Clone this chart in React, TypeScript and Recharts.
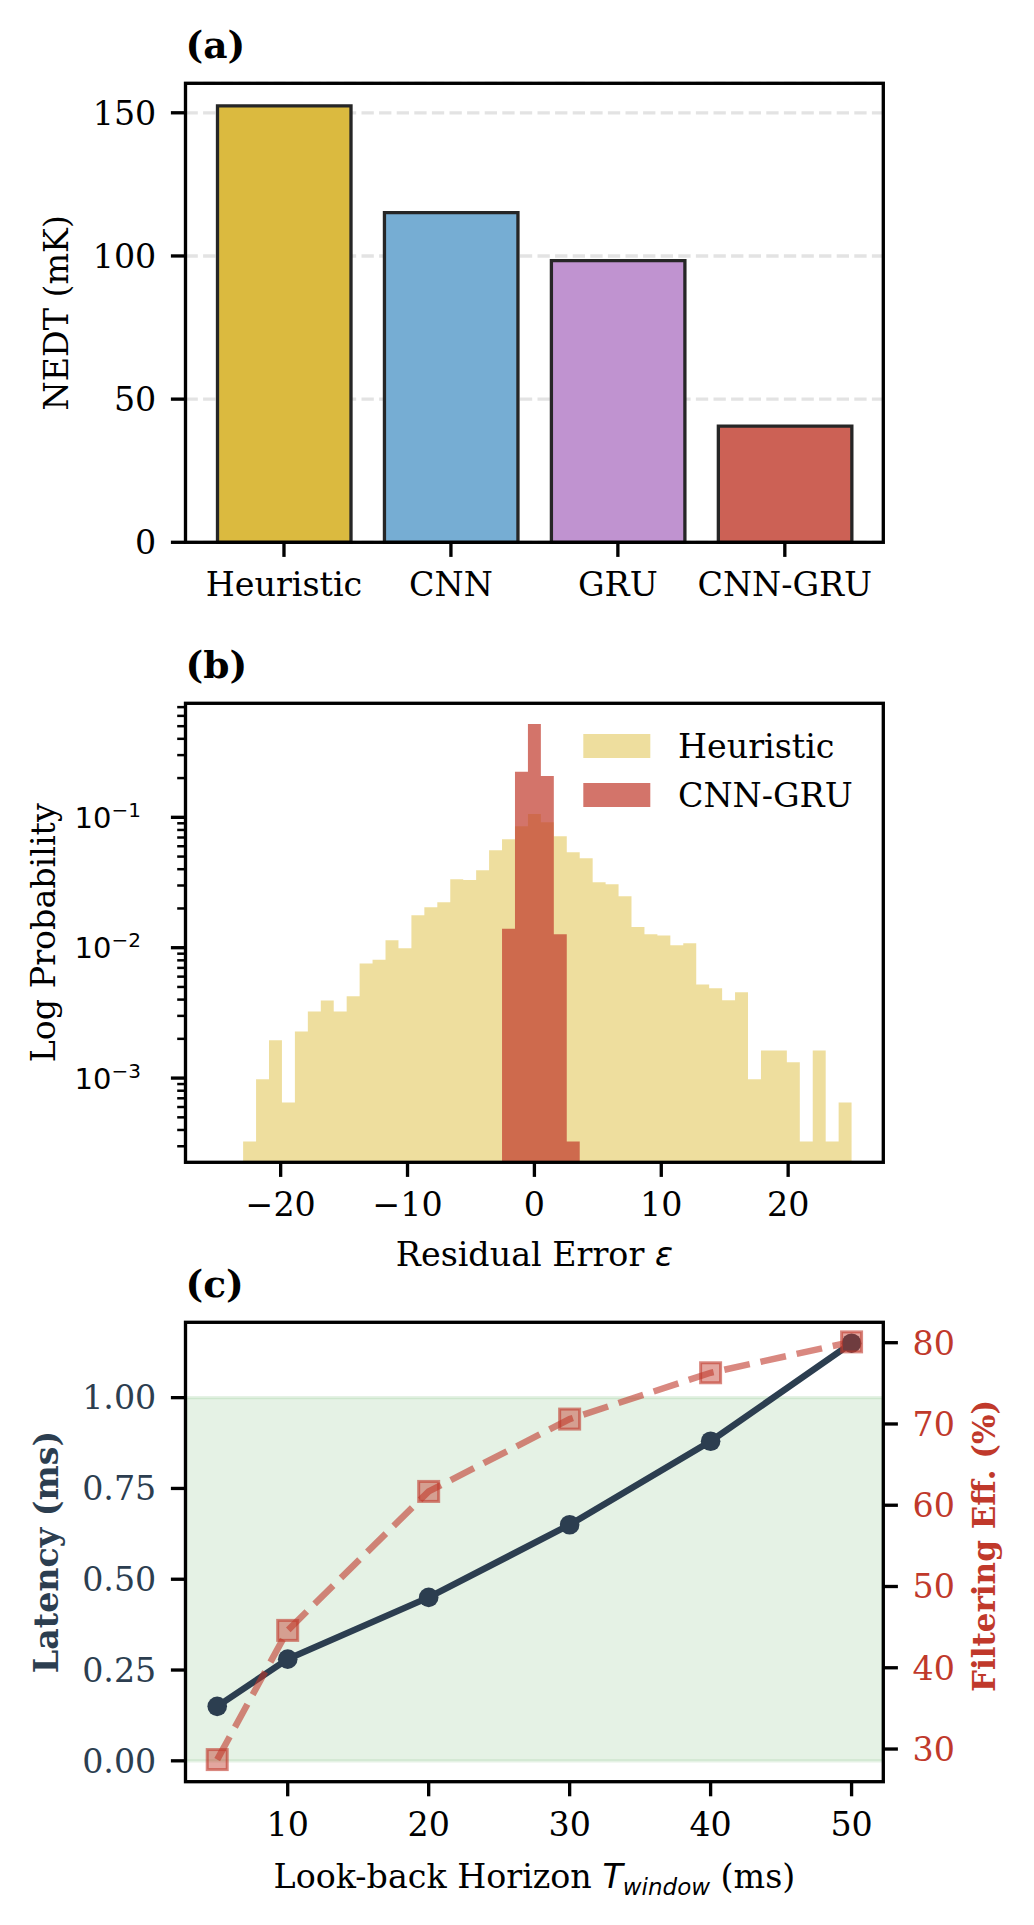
import React from "react";
import {
  Area,
  Bar,
  BarChart,
  CartesianGrid,
  Cell,
  ComposedChart,
  Line,
  ReferenceArea,
  XAxis,
  YAxis,
} from "recharts";

// ---- (a) NEDT per model
const models = ["Heuristic", "CNN", "GRU", "CNN-GRU"];
const nedtMk = [152.4, 115.1, 98.4, 40.6];
const modelColors = ["#DBBA3F", "#76ADD3", "#C093D0", "#CC6155"];
const nedtTicks = [0, 50, 100, 150];

// ---- (b) residual histograms (density, 49 bins over [-25, 25])
const binRange = [-25, 25];
const binCount = 49;
const heuristicStartBin = 2;
const heuristicDensity = [
  3.27e-4, 9.8e-4, 1.95e-3, 6.5e-4, 2.28e-3, 3.24e-3, 3.94e-3, 3.24e-3, 4.25e-3,
  7.56e-3, 8.1e-3, 1.14e-2, 9.9e-3, 1.77e-2, 2.04e-2, 2.23e-2, 3.35e-2, 3.3e-2,
  3.92e-2, 5.58e-2, 6.8e-2, 8.55e-2, 0.106, 9.15e-2, 7.15e-2, 5.4e-2, 4.85e-2,
  3.17e-2, 3.06e-2, 2.48e-2, 1.44e-2, 1.27e-2, 1.24e-2, 1.045e-2, 1.08e-2, 5.22e-3,
  4.88e-3, 3.95e-3, 4.55e-3, 9.8e-4, 1.63e-3, 1.63e-3, 1.32e-3, 3.27e-4, 1.63e-3,
  3.27e-4, 6.5e-4,
];
const cnnGruStartBin = 22;
const cnnGruDensity = [1.4e-2, 0.224, 0.52, 0.207, 1.27e-2, 3.27e-4];
const residualTicks = [-20, -10, 0, 10, 20];
const logMajorTicks = [1e-3, 1e-2, 1e-1];
const logMinorTicks = [
  3e-4, 4e-4, 5e-4, 6e-4, 7e-4, 8e-4, 9e-4,
  2e-3, 3e-3, 4e-3, 5e-3, 6e-3, 7e-3, 8e-3, 9e-3,
  2e-2, 3e-2, 4e-2, 5e-2, 6e-2, 7e-2, 8e-2, 9e-2,
  2e-1, 3e-1, 4e-1, 5e-1, 6e-1, 7e-1,
];

// ---- (c) latency / filtering efficiency vs look-back horizon
const horizonMs = [5, 10, 20, 30, 40, 50];
const latencyMs = [0.15, 0.28, 0.45, 0.65, 0.88, 1.15];
const filteringEff = [28.7, 44.6, 61.7, 70.6, 76.3, 80.1];
const horizonTicks = [10, 20, 30, 40, 50];
const latencyTicks = [0, 0.25, 0.5, 0.75, 1.0];
const effTicks = [30, 40, 50, 60, 70, 80];

// layout (page pixels)
const PAGE_W = 1034;
const PAGE_H = 1925;
const PLOT_L = 185.5;
const PLOT_R = 883.3;
const A_TOP = 83.3, A_BOT = 542.3;
const B_TOP = 703.3, B_BOT = 1162.3;
const C_TOP = 1322.3, C_BOT = 1781.7;
const BOX_A = [0, 620];
const BOX_B = [620, 1240];
const BOX_C = [1240, 1925];

const SERIF = "'DejaVu Serif', serif";
const SANS = "'DejaVu Sans', sans-serif";
const FS = 33.3;
const TITLE_FS = 37.5;
const TICK_LEN = 14.6;
const TICK_PAD = 14.6;
const LW = 3.33;
const NAVY = "#2C3E50";
const RED = "#C0392B";

const tickLine = { stroke: "#000", strokeWidth: LW };
const tickFont = { fontSize: FS, fontFamily: SERIF, fill: "#000" };
const minus = (v: number) => (v < 0 ? "\u2212" + Math.abs(v) : String(v));

const nedtRows = models.map((m, i) => ({ model: m, nedt: nedtMk[i] }));

const binWidth = (binRange[1] - binRange[0]) / binCount;
const histRows: { edge: number; heuristic: number; cnnGru: number | null }[] = [];
for (let k = heuristicStartBin; k <= heuristicStartBin + heuristicDensity.length; k++) {
  const h = Math.min(k - heuristicStartBin, heuristicDensity.length - 1);
  const j = k - cnnGruStartBin;
  histRows.push({
    edge: binRange[0] + k * binWidth,
    heuristic: heuristicDensity[h],
    cnnGru:
      j >= 0 && j <= cnnGruDensity.length
        ? cnnGruDensity[Math.min(j, cnnGruDensity.length - 1)]
        : null,
  });
}
const logDomain = [2.26e-4, 0.749];

const horizonRows = horizonMs.map((h, i) => ({
  horizon: h,
  latency: latencyMs[i],
  eff: filteringEff[i],
}));

function LogTick(props: any) {
  const { y, payload } = props;
  const v = payload.value as number;
  const e = Math.round(Math.log10(v));
  const major = Math.abs(Math.log10(v) - e) < 1e-6;
  const len = major ? TICK_LEN : 8.3;
  return (
    <g>
      <line
        x1={PLOT_L - len}
        x2={PLOT_L}
        y1={y}
        y2={y}
        stroke="#000"
        strokeWidth={major ? LW : 2.5}
      />
      {major && (
        <text
          x={141}
          y={y}
          dy="0.36em"
          textAnchor="end"
          fontFamily={SANS}
          fontSize={29}
          fill="#000"
        >
          10
          <tspan dy="-0.55em" fontSize={20}>
            {"\u2212" + Math.abs(e)}
          </tspan>
        </text>
      )}
    </g>
  );
}

function SquareDot(props: any) {
  const { cx, cy } = props;
  if (cx == null || cy == null) return null;
  return (
    <rect
      x={cx - 10}
      y={cy - 10}
      width={20}
      height={20}
      fill={RED}
      fillOpacity={0.45}
      stroke={RED}
      strokeOpacity={0.6}
      strokeWidth={3}
    />
  );
}

function Overlay() {
  const midX = (PLOT_L + PLOT_R) / 2;
  const rot = (x: number, y: number) => `rotate(-90 ${x} ${y})`;
  return (
    <svg
      width={PAGE_W}
      height={PAGE_H}
      style={{ position: "absolute", left: 0, top: 0, pointerEvents: "none" }}
      fontFamily={SERIF}
      fontSize={FS}
    >
      {[
        [A_TOP, A_BOT],
        [B_TOP, B_BOT],
        [C_TOP, C_BOT],
      ].map(([t, b], i) => (
        <rect
          key={i}
          x={PLOT_L}
          y={t}
          width={PLOT_R - PLOT_L}
          height={b - t}
          fill="none"
          stroke="#000"
          strokeWidth={LW}
        />
      ))}

      <text x={PLOT_L} y={A_TOP - 25} fontWeight="bold" fontSize={TITLE_FS}>(a)</text>
      <text x={PLOT_L} y={B_TOP - 25} fontWeight="bold" fontSize={TITLE_FS}>(b)</text>
      <text x={PLOT_L} y={C_TOP - 25} fontWeight="bold" fontSize={TITLE_FS}>(c)</text>

      <text
        x={68}
        y={(A_TOP + A_BOT) / 2}
        textAnchor="middle"
        transform={rot(68, (A_TOP + A_BOT) / 2)}
      >
        NEDT (mK)
      </text>

      <text
        x={55}
        y={(B_TOP + B_BOT) / 2}
        textAnchor="middle"
        transform={rot(55, (B_TOP + B_BOT) / 2)}
      >
        Log Probability
      </text>
      <text x={midX} y={1266} textAnchor="middle">
        Residual Error{" "}
        <tspan fontFamily={SANS} fontStyle="italic">
          ε
        </tspan>
      </text>

      {/* legend */}
      <rect x={583.3} y={734} width={67} height={24} fill="#D4AC0D" fillOpacity={0.4} />
      <rect x={583.3} y={783} width={67} height={24} fill={RED} fillOpacity={0.7} />
      <text x={678} y={758}>Heuristic</text>
      <text x={678} y={807}>CNN-GRU</text>

      <text
        x={58}
        y={(C_TOP + C_BOT) / 2}
        textAnchor="middle"
        fontWeight="bold"
        fill={NAVY}
        transform={rot(58, (C_TOP + C_BOT) / 2)}
      >
        Latency (ms)
      </text>
      <text
        x={995}
        y={(C_TOP + C_BOT) / 2 - 6}
        textAnchor="middle"
        fontWeight="bold"
        fontSize={31}
        fill={RED}
        transform={rot(995, (C_TOP + C_BOT) / 2 - 6)}
      >
        Filtering Eff. (%)
      </text>
      <text x={midX} y={1888} textAnchor="middle">
        Look-back Horizon{" "}
        <tspan fontFamily={SANS} fontStyle="italic">
          T
        </tspan>
        <tspan fontFamily={SANS} fontStyle="italic" fontSize={23} dy={7}>
          window
        </tspan>
        <tspan dy={-7}> (ms)</tspan>
      </text>
    </svg>
  );
}

export default function App() {
  const marginRight = PAGE_W - PLOT_R;
  return (
    <div
      style={{
        position: "absolute",
        left: 0,
        top: 0,
        width: PAGE_W,
        height: PAGE_H,
        background: "#fff",
      }}
    >
      <div style={{ position: "absolute", left: 0, top: BOX_A[0] }}>
        <BarChart
          width={PAGE_W}
          height={BOX_A[1] - BOX_A[0]}
          data={nedtRows}
          margin={{ top: A_TOP - BOX_A[0], right: marginRight, bottom: 0, left: 0 }}
        >
          <CartesianGrid
            vertical={false}
            stroke="#e3e3e3"
            strokeWidth={LW}
            strokeDasharray="12.3 5.3"
          />
          <XAxis
            dataKey="model"
            type="category"
            height={BOX_A[1] - A_BOT}
            padding={{ left: 15, right: 15 }}
            axisLine={false}
            tickLine={tickLine}
            tickSize={TICK_LEN}
            tickMargin={TICK_PAD + 1}
            tick={tickFont}
            interval={0}
          />
          <YAxis
            width={PLOT_L}
            type="number"
            domain={[0, 160.3]}
            ticks={nedtTicks}
            axisLine={false}
            tickLine={tickLine}
            tickSize={TICK_LEN}
            tickMargin={TICK_PAD}
            tick={tickFont}
            interval={0}
          />
          <Bar
            dataKey="nedt"
            barSize={133.5}
            stroke="#262626"
            strokeWidth={3.3}
            isAnimationActive={false}
          >
            {nedtRows.map((r, i) => (
              <Cell key={r.model} fill={modelColors[i]} />
            ))}
          </Bar>
        </BarChart>
      </div>

      <div style={{ position: "absolute", left: 0, top: BOX_B[0] }}>
        <ComposedChart
          width={PAGE_W}
          height={BOX_B[1] - BOX_B[0]}
          data={histRows}
          margin={{ top: B_TOP - BOX_B[0], right: marginRight, bottom: 0, left: 0 }}
        >
          <XAxis
            dataKey="edge"
            type="number"
            domain={[-27.5, 27.5]}
            allowDataOverflow
            ticks={residualTicks}
            tickFormatter={minus}
            height={BOX_B[1] - B_BOT}
            axisLine={false}
            tickLine={tickLine}
            tickSize={TICK_LEN}
            tickMargin={TICK_PAD + 1}
            tick={tickFont}
            interval={0}
          />
          <YAxis
            width={PLOT_L}
            type="number"
            scale="log"
            domain={logDomain}
            allowDataOverflow
            ticks={[...logMinorTicks, ...logMajorTicks].sort((a, b) => a - b)}
            axisLine={false}
            tickLine={false}
            tickSize={TICK_LEN}
            tickMargin={TICK_PAD}
            tick={<LogTick />}
            interval={0}
          />
          <Area
            dataKey="heuristic"
            type="stepAfter"
            baseValue={logDomain[0]}
            fill="#D4AC0D"
            fillOpacity={0.4}
            stroke="none"
            dot={false}
            activeDot={false}
            isAnimationActive={false}
          />
          <Area
            dataKey="cnnGru"
            type="stepAfter"
            baseValue={logDomain[0]}
            fill={RED}
            fillOpacity={0.7}
            stroke="none"
            dot={false}
            activeDot={false}
            isAnimationActive={false}
          />
        </ComposedChart>
      </div>

      <div style={{ position: "absolute", left: 0, top: BOX_C[0] }}>
        <ComposedChart
          width={PAGE_W}
          height={BOX_C[1] - BOX_C[0]}
          data={horizonRows}
          margin={{ top: C_TOP - BOX_C[0], right: marginRight - 100, bottom: 0, left: 0 }}
        >
          <XAxis
            dataKey="horizon"
            type="number"
            domain={[2.75, 52.25]}
            ticks={horizonTicks}
            height={BOX_C[1] - C_BOT}
            axisLine={false}
            tickLine={tickLine}
            tickSize={TICK_LEN}
            tickMargin={TICK_PAD + 1}
            tick={tickFont}
            interval={0}
          />
          <YAxis
            yAxisId="lat"
            width={PLOT_L}
            type="number"
            domain={[-0.0575, 1.2075]}
            ticks={latencyTicks}
            tickFormatter={(v: number) => v.toFixed(2)}
            axisLine={false}
            tickLine={tickLine}
            tickSize={TICK_LEN}
            tickMargin={TICK_PAD}
            tick={{ ...tickFont, fill: NAVY }}
            interval={0}
          />
          <YAxis
            yAxisId="eff"
            orientation="right"
            width={100}
            type="number"
            domain={[25.98, 82.51]}
            ticks={effTicks}
            axisLine={false}
            tickLine={tickLine}
            tickSize={TICK_LEN}
            tickMargin={TICK_PAD}
            tick={{ ...tickFont, fill: RED }}
            interval={0}
          />
          <ReferenceArea
            yAxisId="lat"
            y1={0}
            y2={1}
            fill="#008000"
            fillOpacity={0.1}
            stroke="#008000"
            strokeOpacity={0.1}
            strokeWidth={3.3}
          />
          <Line
            yAxisId="lat"
            dataKey="latency"
            stroke={NAVY}
            strokeWidth={6.5}
            dot={{ r: 9.8, fill: NAVY, stroke: NAVY, strokeWidth: 0 }}
            activeDot={false}
            isAnimationActive={false}
          />
          <Line
            yAxisId="eff"
            dataKey="eff"
            stroke={RED}
            strokeOpacity={0.6}
            strokeWidth={6.5}
            strokeDasharray="26 11"
            dot={<SquareDot />}
            activeDot={false}
            isAnimationActive={false}
          />
        </ComposedChart>
      </div>

      <Overlay />
    </div>
  );
}
